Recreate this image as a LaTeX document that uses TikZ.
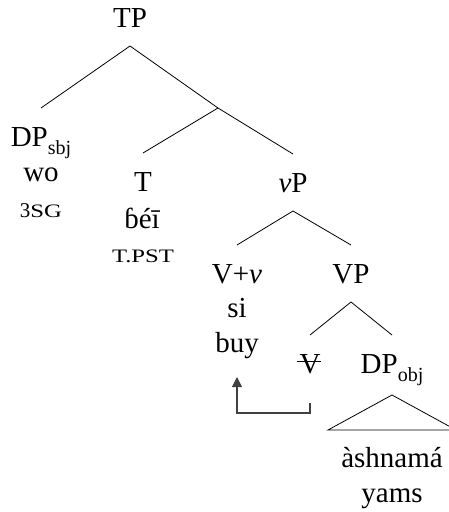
\documentclass[tikz,border=0pt]{standalone}
\usepackage{fontspec}
\setmainfont{Liberation Serif}
\newfontfamily\scfont[FakeStretch=1.3]{Liberation Serif}
\usetikzlibrary{calc,arrows.meta}
\newcommand\mysc[1]{{\scfont\fontsize{19}{22}\selectfont #1}}
\newcommand\mysub[1]{\raisebox{-8pt}{\fontsize{20}{22}\selectfont #1}}
\begin{document}
\begin{tikzpicture}[x=1pt,y=1pt,
  every node/.style={font=\fontsize{29}{34}\selectfont, inner sep=0pt},
  cat/.style={anchor=base, text height=19pt, text depth=0pt, outer ysep=19pt, outer xsep=0pt},
  word/.style={anchor=base},
  branch/.style={line width=0.8pt},
  movearrow/.style={line width=1.1pt, draw=black!75, arrows={-Triangle[length=10pt,width=10pt]}}]
\useasboundingbox (0,0) rectangle (449,-512);
% labels
\node[cat] (TP) at (130,-27) {TP};
\coordinate (Tbar) at (218,-108);
\node[cat] (DPs) at (41,-146) {DP\mysub{sbj}};
\node[word] (wo) at (41,-181) {wo};
\node[word] (g3sg) at (41,-217) {{\fontsize{21}{22}\selectfont 3}\mysc{SG}};
\node[cat] (T) at (143,-191) {T};
\node[word] (bei) at (142,-228) {ɓéī};
\node[word] (tpst) at (143,-262) {\mysc{T.PST}};
\node[cat] (vP) at (293,-192) {{\itshape v}P};
\node[cat] (Vv) at (237,-283) {V+{\itshape v}};
\node[word] (si) at (237,-317) {si};
\node[word] (buy) at (237,-352) {buy};
\node[cat] (VP) at (351,-283) {VP};
\node[cat] (V) at (310,-373) {V};
\node[cat] (DPo) at (392,-373) {DP\mysub{obj}};
\node[word] (ash) at (392,-467) {àshnamá};
\node[word] (yams) at (392,-502) {yams};
% strike through trace
\draw[branch] ([xshift=-3pt,yshift=12pt]V.base west) -- ([xshift=1pt,yshift=12pt]V.base east);
% branches
\draw[branch] (TP.south) -- (DPs.north);
\draw[branch] (TP.south) -- (Tbar) -- (vP.north);
\draw[branch] (Tbar) -- (T.north);
\draw[branch] (vP.south) -- (Vv.north);
\draw[branch] (vP.south) -- (VP.north);
\draw[branch] (VP.south) -- (V.north);
\draw[branch] (VP.south) -- (DPo.north);
\draw[branch] ([yshift=-3pt]DPo.south) -- ($(DPo.south)+(64,-38)$) -- ($(DPo.south)+(-64,-38)$) -- cycle;
% movement arrow
\draw[movearrow] ($(V.south)+(0,-11)$) -- ($(V.south)+(0,-21)$) -| ($(buy.base)+(0,-25)$);
\end{tikzpicture}
\end{document}
